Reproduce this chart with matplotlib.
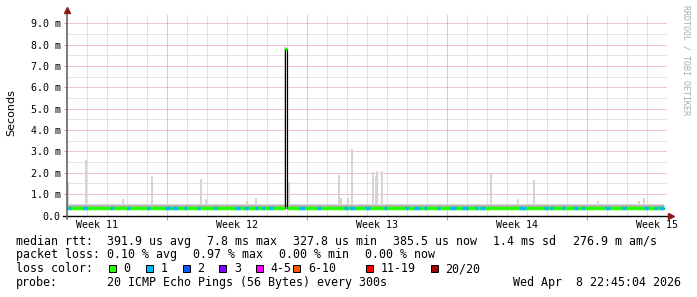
import matplotlib
matplotlib.use("Agg")
import matplotlib.pyplot as plt
from matplotlib.lines import Line2D
from matplotlib.patches import Rectangle

W, H = 697, 297
PX = 72 / 100.0  # one pixel in points

# ---- data (x in days from graph start, y in ms) ----
week_bounds = [5, 12, 19, 26]
week_label_pos = [1.5, 8.5, 15.5, 22.5, 29.5]
week_labels = ["Week 11", "Week 12", "Week 13", "Week 14", "Week 15"]
y_ticks = [0, 1, 2, 3, 4, 5, 6, 7, 8, 9]
y_labels = ["0.0", "1.0 m", "2.0 m", "3.0 m", "4.0 m", "5.0 m",
            "6.0 m", "7.0 m", "8.0 m", "9.0 m"]

data_end = 29.85
smoke_lo, smoke_hi = 0.24, 0.56
smoke_in_lo, smoke_in_hi = 0.30, 0.48

spike_days = [0.05, 0.95, 2.78, 4.27, 6.7, 6.95, 8.98, 9.43, 10.92, 11.08,
              13.58, 13.68, 14.07, 14.27, 15.28, 15.43, 15.52, 15.77,
              21.18, 22.57, 23.35, 26.57, 28.62, 28.85]
spike_tops = [1.56, 2.58, 0.75, 1.83, 1.69, 0.75, 0.7, 0.8, 7.9, 1.56,
              1.9, 0.8, 0.8, 3.09, 2.03, 1.87, 2.1, 2.1,
              1.92, 0.75, 1.64, 0.66, 0.67, 0.81]

# median rtt steps
med_start = [0.0, 10.88, 11.0]
med_end = [10.88, 11.0, data_end]
med_val = [0.37, 7.8, 0.37]

# segments with 1 lost ping (median drawn in loss colour)
loss1_start = [0.05, 0.78, 2.17, 3.0, 4.0, 4.92, 5.25, 5.83, 6.5, 7.33,
               8.42, 8.83, 9.42, 9.75, 10.08, 11.58, 12.5, 13.83, 14.17,
               14.92, 15.83, 16.92, 17.33, 17.83, 18.5, 19.17, 19.75, 20.4,
               20.65, 22.58, 23.83, 24.17, 24.75, 25.33, 25.75, 26.92,
               27.75, 28.83, 29.33, 29.58]
loss1_len = [0.15, 0.2, 0.15, 0.15, 0.15, 0.22, 0.3, 0.15, 0.15, 0.15,
             0.22, 0.22, 0.15, 0.15, 0.22, 0.3, 0.22, 0.22, 0.22,
             0.22, 0.15, 0.15, 0.3, 0.15, 0.15, 0.3, 0.3, 0.15,
             0.23, 0.38, 0.22, 0.15, 0.15, 0.22, 0.15, 0.22,
             0.22, 0.22, 0.15, 0.27]

loss_names = ["0", "1", "2", "3", "4-5", "6-10", "11-19", "20/20"]
loss_colors = ["#26ff00", "#00b8ff", "#0059ff", "#7e00ff", "#ff00ff",
               "#ff5500", "#ff0000", "#a10000"]
loss_box_x = [108.7, 145.7, 182.7, 219.3, 256.3, 293.3, 365.7, 431]

rows = [
    (241.3, [(16, "median rtt:"), (107.3, "391.9 us avg"), (206.7, "7.8 ms max"),
             (293.3, "327.8 us min"), (393.3, "385.5 us now"), (493.3, "1.4 ms sd"),
             (572.7, "276.9 m am/s")]),
    (254.7, [(16, "packet loss:"), (107.3, "0.10 % avg"), (193.3, "0.97 % max"),
             (279.3, "0.00 % min"), (365, "0.00 % now")]),
    (269.0, [(16, "loss color:")]),
    (282.7, [(16, "probe:"), (107.3, "20 ICMP Echo Pings (56 Bytes) every 300s"),
             (513.3, "Wed Apr  8 22:45:04 2026")]),
]

plt.rcParams['lines.scale_dashes'] = False
mono = "DejaVu Sans Mono"

fig = plt.figure(figsize=(W / 100, H / 100), dpi=100)
fx = lambda x: x / W
fy = lambda y: 1 - y / H

ax_left, ax_right, ax_bottom, ax_top = 67, 667, 215.5, 14
ax = fig.add_axes([fx(ax_left), fy(ax_bottom), (ax_right - ax_left) / W,
                   (ax_bottom - ax_top) / H])
ymax = (ax_bottom - ax_top) / 21.36
ax.set_xlim(0, 30)
ax.set_ylim(0, ymax)
for s in ax.spines.values():
    s.set_visible(False)

# grid (1px dotted)
dots = (PX, PX)
minor_c, major_c = "#c8c8c8", "#e08c8c"
grid_kw = dict(lw=PX, dashes=dots, zorder=0, snap=True)
for d in range(1, 30):
    if d not in week_bounds:
        ax.axvline(d, color=minor_c, **grid_kw)
for d in week_bounds:
    ax.axvline(d, color=major_c, **grid_kw)
for v in [0.5 + i for i in range(10)]:
    if v < ymax:
        ax.axhline(v, color=minor_c, **grid_kw)
for v in y_ticks[1:]:
    ax.axhline(v, color=major_c, **grid_kw)

# smoke
ax.fill_between([0, data_end], smoke_lo, smoke_hi, color="#dcdcdc", lw=0, zorder=1)
ax.fill_between([0, data_end], smoke_in_lo, smoke_in_hi, color="#b4b4b4", lw=0, zorder=1)
ax.bar(spike_days, [t - smoke_hi for t in spike_tops], bottom=smoke_hi,
       width=0.1, color="#d4d4d4", lw=0, zorder=1)

# median: thin black line, then loss-coloured band
step_x, step_y = [], []
for s, e, v in zip(med_start, med_end, med_val):
    step_x += [s, e]
    step_y += [v, v]
ax.plot(step_x, step_y, color="black", lw=PX * 1.2, zorder=2)
ax.hlines(med_val, med_start, med_end, color=loss_colors[0], lw=3.4 * PX,
          zorder=3, capstyle="butt")
ax.hlines([med_val[0]] * len(loss1_start), loss1_start,
          [s + l for s, l in zip(loss1_start, loss1_len)],
          color=loss_colors[1], lw=3.4 * PX, zorder=4)

# ticks and labels
ax.set_yticks(y_ticks)
ax.set_yticklabels(y_labels, fontfamily=mono, fontsize=7.2)
ax.tick_params(axis="y", length=3 * PX, width=PX, color=major_c, pad=3.2 * PX)
ax.set_xticks(week_bounds)
ax.set_xticklabels([""] * len(week_bounds))
ax.tick_params(axis="x", which="major", length=4 * PX, width=PX, color=major_c)
ax.set_xticks(week_label_pos, minor=True)
ax.set_xticklabels(week_labels, minor=True, fontfamily=mono, fontsize=7.2)
ax.tick_params(axis="x", which="minor", length=0, pad=5 * PX)

# axes lines with arrows
fig.add_artist(Line2D([fx(63), fx(670)], [fy(ax_bottom)] * 2, color="black",
                      lw=1.4 * PX, transform=fig.transFigure))
fig.add_artist(Line2D([fx(ax_left)] * 2, [fy(219), fy(11)], color="#606060",
                      lw=1.6 * PX, transform=fig.transFigure))
fig.add_artist(Line2D([fx(671)], [fy(ax_bottom)], marker=">", ms=5, color="#8b1a1a",
                      transform=fig.transFigure))
fig.add_artist(Line2D([fx(ax_left)], [fy(10)], marker="^", ms=5, color="#8b1a1a",
                      transform=fig.transFigure))

fig.text(fx(11), fy(113), "Seconds", rotation=90, ha="center", va="center",
         fontsize=8, family="DejaVu Sans")
fig.text(fx(686), fy(5), "RRDTOOL / TOBI OETIKER", rotation=270, ha="center",
         va="top", fontsize=6, family=mono, color="#aaaaaa")

# legend rows
for y, items in rows:
    for x, t in items:
        fig.text(fx(x), fy(y), t, ha="left", va="center", fontsize=8.4, family=mono)

for x, name, c in zip(loss_box_x, loss_names, loss_colors):
    fig.add_artist(Rectangle((fx(x), fy(272.2)), 7 / W, 7.4 / H, facecolor=c,
                             edgecolor="black", lw=PX, transform=fig.transFigure))
    fig.text(fx(x + 14.5), fy(269.0), name, ha="left", va="center",
             fontsize=8.4, family=mono)

fig.savefig("out.png", dpi=100)
